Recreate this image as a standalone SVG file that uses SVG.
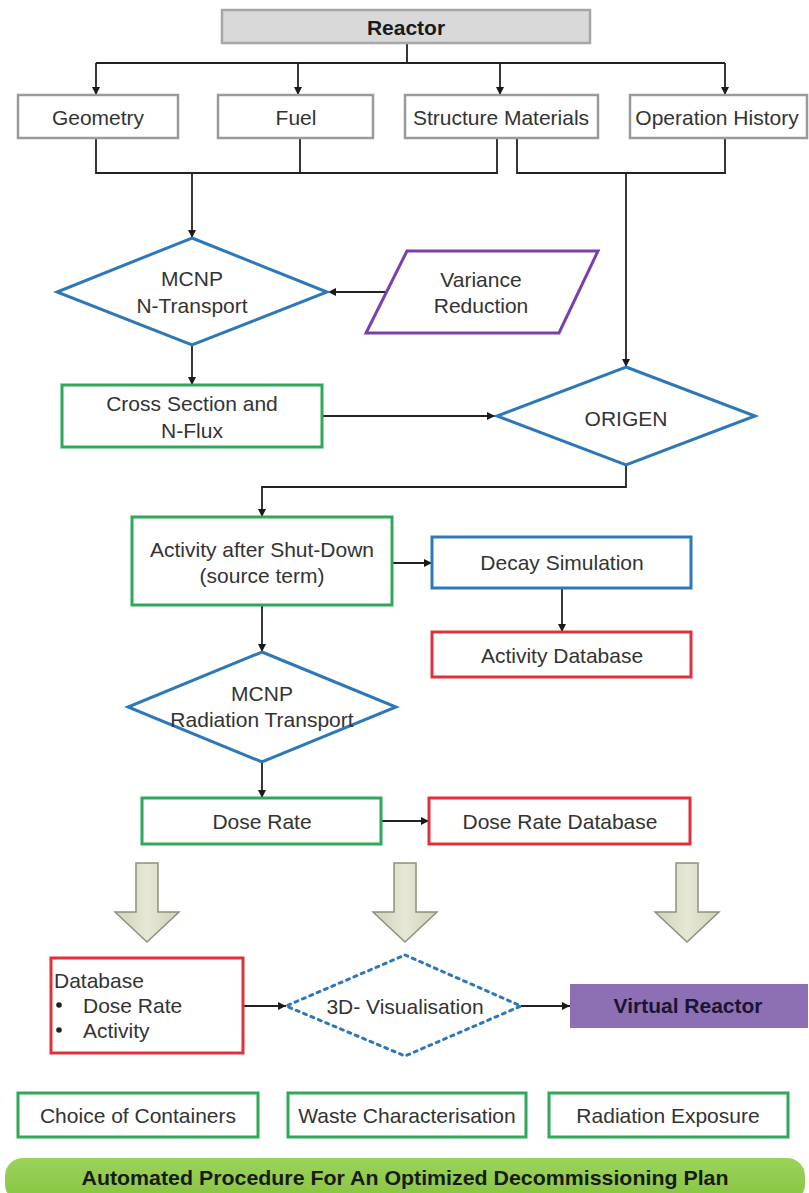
<svg xmlns="http://www.w3.org/2000/svg" width="809" height="1193" viewBox="0 0 809 1193">
  <defs>
    <marker id="arrow" viewBox="0 0 10 10" refX="10" refY="5" markerWidth="8" markerHeight="8" orient="auto" markerUnits="userSpaceOnUse">
      <path d="M0,0 L10,5 L0,10 z" fill="#1a1a1a"/>
    </marker>
    <linearGradient id="blockFill" x1="0" y1="0" x2="1" y2="0">
      <stop offset="0" stop-color="#cfd1b9"/>
      <stop offset="0.5" stop-color="#e6e8d6"/>
      <stop offset="1" stop-color="#cfd1b9"/>
    </linearGradient>
    <linearGradient id="bannerFill" x1="0" y1="0" x2="0" y2="1">
      <stop offset="0" stop-color="#9bd35a"/>
      <stop offset="1" stop-color="#86c440"/>
    </linearGradient>
    <style>
      text { font-family: "Liberation Sans", Arial, sans-serif; font-size: 21px; fill: #333; text-anchor: middle; dominant-baseline: central; }
      .bold { font-weight: bold; fill: #1a1a1a; }
      .left { text-anchor: start; }
      .gray { fill: #fff; stroke: #9a9a9a; stroke-width: 2.5; }
      .green { fill: #fff; stroke: #2ea85a; stroke-width: 3; }
      .blue { fill: #fff; stroke: #2e78b8; stroke-width: 3; }
      .red { fill: #fff; stroke: #e0303c; stroke-width: 3; }
      .purple { fill: #fff; stroke: #7a3fa8; stroke-width: 3; }
      .block { fill: url(#blockFill); stroke: #8f907c; stroke-width: 1.5; }
      .conn { fill: none; stroke: #222; stroke-width: 1.8; }
      .arr { marker-end: url(#arrow); }
    </style>
  </defs>

  <rect width="809" height="1193" fill="#fff"/>

  <!-- connectors -->
  <g id="connectors">
    <path class="conn" d="M407,43 V63 M96,63 H725"/>
    <path class="conn arr" d="M96,63 V95"/>
    <path class="conn arr" d="M298,63 V95"/>
    <path class="conn arr" d="M500,63 V95"/>
    <path class="conn arr" d="M725,63 V95"/>
    <path class="conn" d="M96,138 V173 H497 V138 M300,138 V173"/>
    <path class="conn" d="M517,138 V173 H725 V138"/>
    <path class="conn arr" d="M192,173 V238"/>
    <path class="conn arr" d="M626,173 V367"/>
    <path class="conn arr" d="M387,292 H328"/>
    <path class="conn arr" d="M192,345 V385"/>
    <path class="conn arr" d="M322,416 H495"/>
    <path class="conn arr" d="M626,465 V487 H262 V517"/>
    <path class="conn arr" d="M392,563 H432"/>
    <path class="conn arr" d="M562,588 V632"/>
    <path class="conn arr" d="M262,605 V652"/>
    <path class="conn arr" d="M262,762 V798"/>
    <path class="conn arr" d="M381,821 H429"/>
    <path class="conn arr" d="M243,1006 H286"/>
    <path class="conn arr" d="M521,1006 H570"/>
  </g>

  <!-- top level -->
  <g id="reactor">
    <rect x="222" y="10" width="368" height="33" fill="#d9d9d9" stroke="#a6a6a6" stroke-width="2.5"/>
    <text class="bold" x="406" y="27">Reactor</text>
  </g>
  <g id="geometry">
    <rect class="gray" x="18" y="95" width="160" height="43"/>
    <text x="98" y="117">Geometry</text>
  </g>
  <g id="fuel">
    <rect class="gray" x="218" y="95" width="155" height="43"/>
    <text x="296" y="117">Fuel</text>
  </g>
  <g id="structure-materials">
    <rect class="gray" x="405" y="95" width="193" height="43"/>
    <text x="501" y="117">Structure Materials</text>
  </g>
  <g id="operation-history">
    <rect class="gray" x="630" y="95" width="177" height="43"/>
    <text x="717" y="117">Operation History</text>
  </g>

  <!-- neutron transport -->
  <g id="mcnp-n-transport">
    <polygon class="blue" points="192,238 327,292 192,345 57,292"/>
    <text x="192" y="278">MCNP</text>
    <text x="192" y="305">N-Transport</text>
  </g>
  <g id="variance-reduction">
    <polygon class="purple" points="407,251 598,251 559,333 366,333"/>
    <text x="481" y="279">Variance</text>
    <text x="481" y="305">Reduction</text>
  </g>
  <g id="cross-section">
    <rect class="green" x="62" y="385" width="260" height="62"/>
    <text x="192" y="403">Cross Section and</text>
    <text x="192" y="430">N-Flux</text>
  </g>
  <g id="origen">
    <polygon class="blue" points="626,367 755,416 626,465 497,416"/>
    <text x="626" y="418">ORIGEN</text>
  </g>

  <!-- source term and activity -->
  <g id="activity-after-shutdown">
    <rect class="green" x="132" y="517" width="260" height="88"/>
    <text x="262" y="549">Activity after Shut-Down</text>
    <text x="262" y="575">(source term)</text>
  </g>
  <g id="decay-simulation">
    <rect class="blue" x="432" y="537" width="259" height="51"/>
    <text x="562" y="562">Decay Simulation</text>
  </g>
  <g id="activity-database">
    <rect class="red" x="432" y="632" width="259" height="45"/>
    <text x="562" y="655">Activity Database</text>
  </g>
  <g id="mcnp-radiation-transport">
    <polygon class="blue" points="262,652 396,707 262,762 128,707"/>
    <text x="262" y="693">MCNP</text>
    <text x="262" y="719">Radiation Transport</text>
  </g>
  <g id="dose-rate">
    <rect class="green" x="142" y="798" width="239" height="46"/>
    <text x="262" y="821">Dose Rate</text>
  </g>
  <g id="dose-rate-database">
    <rect class="red" x="429" y="798" width="261" height="46"/>
    <text x="560" y="821">Dose Rate Database</text>
  </g>

  <!-- block arrows -->
  <g id="block-arrows">
    <path class="block" d="M136,863 H158 V912 H179 L147,942 L115,912 H136 Z"/>
    <path class="block" d="M394,863 H416 V912 H437 L405,942 L373,912 H394 Z"/>
    <path class="block" d="M676,863 H698 V912 H719 L687,942 L655,912 H676 Z"/>
  </g>

  <!-- visualisation row -->
  <g id="database">
    <rect class="red" x="51" y="958" width="192" height="95"/>
    <text class="left" x="54" y="980">Database</text>
    <circle cx="59" cy="1005" r="2.8" fill="#222"/>
    <text class="left" x="83" y="1005">Dose Rate</text>
    <circle cx="59" cy="1030" r="2.8" fill="#222"/>
    <text class="left" x="83" y="1030">Activity</text>
  </g>
  <g id="visualisation-3d">
    <polygon points="405,955 521,1006 405,1056 286,1006" fill="#fff" stroke="#2e78b8" stroke-width="3" stroke-dasharray="3 5" stroke-linecap="round"/>
    <text x="405" y="1006">3D- Visualisation</text>
  </g>
  <g id="virtual-reactor">
    <rect x="570" y="984" width="238" height="44" fill="#8d70b3"/>
    <text class="bold" x="688" y="1005" style="fill:#1c1433">Virtual Reactor</text>
  </g>

  <!-- outcomes -->
  <g id="choice-of-containers">
    <rect class="green" x="18" y="1093" width="240" height="44"/>
    <text x="138" y="1115">Choice of Containers</text>
  </g>
  <g id="waste-characterisation">
    <rect class="green" x="288" y="1093" width="238" height="44"/>
    <text x="407" y="1115">Waste Characterisation</text>
  </g>
  <g id="radiation-exposure">
    <rect class="green" x="549" y="1093" width="239" height="44"/>
    <text x="668" y="1115">Radiation Exposure</text>
  </g>
  <g id="decommissioning-plan">
    <rect x="5" y="1158" width="800" height="44" rx="18" fill="url(#bannerFill)"/>
    <text class="bold" x="405" y="1177" textLength="647" lengthAdjust="spacingAndGlyphs" style="font-size:21px">Automated Procedure For An Optimized Decommissioning Plan</text>
  </g>
</svg>
